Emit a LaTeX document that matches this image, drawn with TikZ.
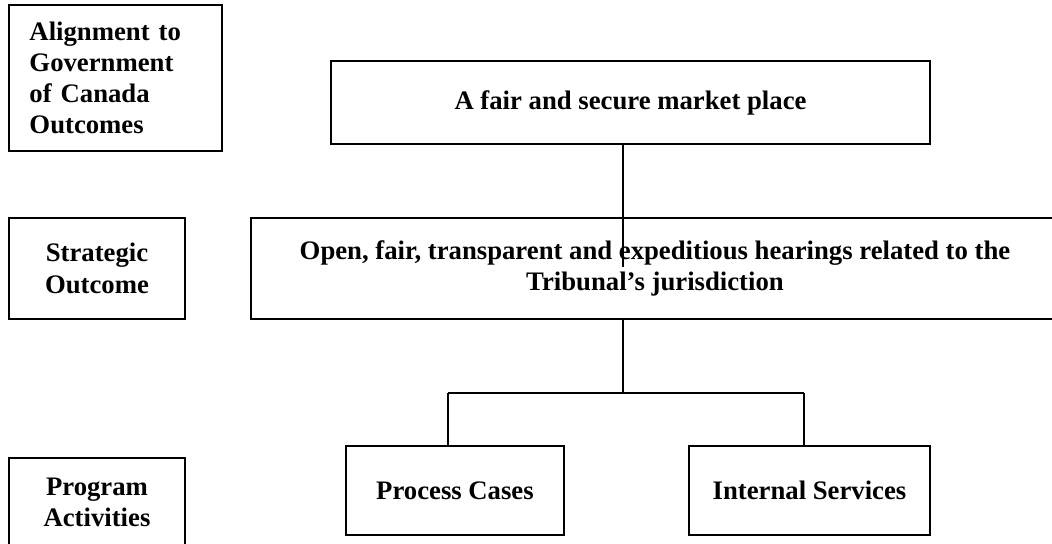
\documentclass[tikz,border=0pt]{standalone}
\usepackage{fontspec}
\setmainfont{Liberation Serif}

\begin{document}
\begin{tikzpicture}[x=0.025cm,y=-0.025cm,
  font=\fontsize{19}{22.2}\selectfont\bfseries,
  box/.style={draw,line width=1.4pt,inner sep=0pt,align=center},
  link/.style={line width=1.1pt}]
\useasboundingbox (0,0) rectangle (1052,544);

% left column
\node [box,minimum width=5.325cm,minimum height=3.65cm,text width=4.3cm,align=left] (align) at (115.5,78) {Alignment to\\Government\\of Canada\\Outcomes};
\node [box,minimum width=4.4cm,minimum height=2.525cm] (slab) at (97,268.5) {Strategic\\Outcome};
\node [box,minimum width=4.4cm,minimum height=2.225cm] (plab) at (97,502.5) {Program\\Activities};

% right column
\node [box,minimum width=14.975cm,minimum height=2.075cm] (market) at (630.5,102.5) {A fair and secure market place};
\node [box,minimum width=20.2cm,minimum height=2.525cm] (outcome) at (655,268.5) {Open, fair, transparent and expeditious hearings related to the\\Tribunal’s jurisdiction};
\node [box,minimum width=5.45cm,minimum height=2.225cm] (proc) at (455,490.5) {Process Cases};
\node [box,minimum width=6.025cm,minimum height=2.225cm] (intsvc) at (809.5,490.5) {Internal Services};

\coordinate (tip) at (623,267);
\coordinate (fork) at (623,393);
\coordinate (forkL) at (448,393);
\coordinate (forkR) at (804,393);

\draw [link] (market.south -| tip) -- (tip);
\draw [link] (outcome.south -| fork) -- (fork);
\draw [link] (forkL) -- (forkR);
\draw [link] (forkL) -- (forkL |- proc.north);
\draw [link] (forkR) -- (forkR |- intsvc.north);

\end{tikzpicture}
\end{document}
